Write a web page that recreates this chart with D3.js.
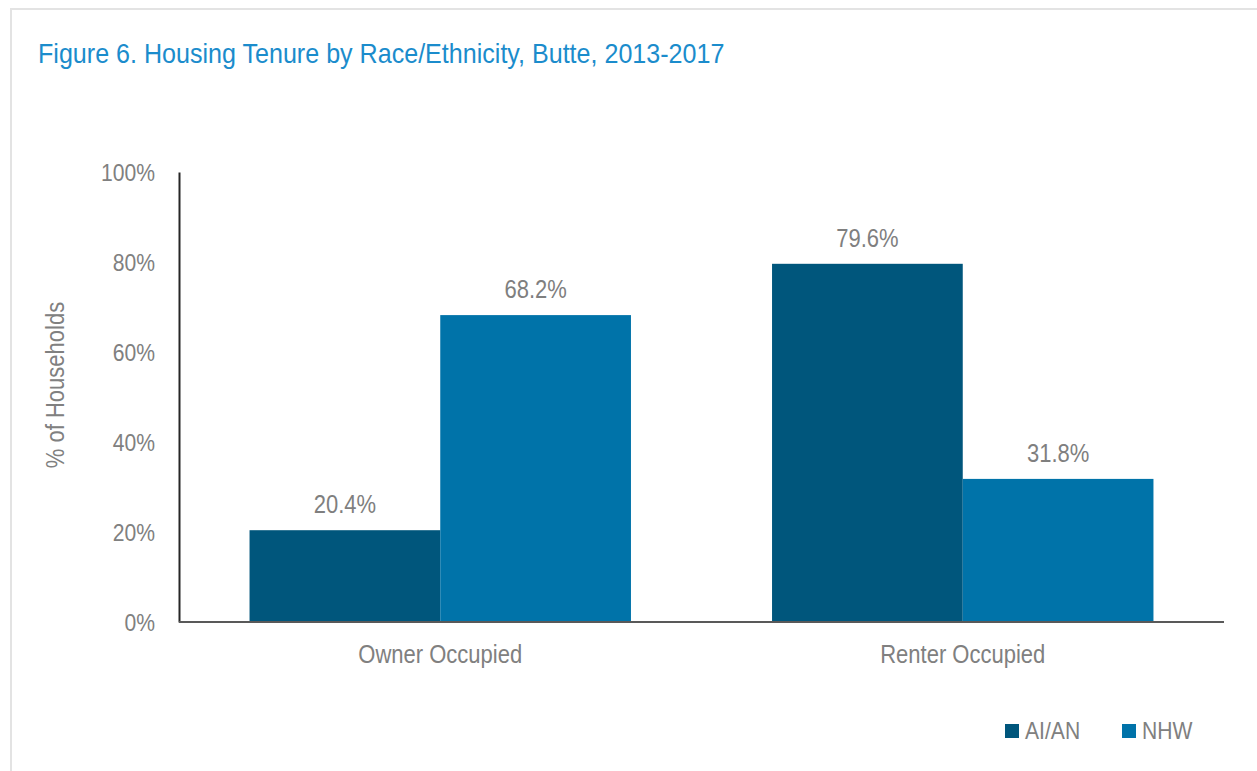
<!DOCTYPE html>
<html><head><meta charset="utf-8">
<script src="https://cdn.jsdelivr.net/npm/d3@7"></script>
<style>
body{margin:0;background:#fff;}
svg{display:block;}
text{font-family:"Liberation Sans",Arial,sans-serif;}
</style></head>
<body>
<svg id="c" width="1257" height="771"></svg>
<script>
const categories = ["Owner Occupied", "Renter Occupied"];
const seriesNames = ["AI/AN", "NHW"];
const aian = [20.4, 79.6];
const nhw = [68.2, 31.8];
const yTicks = [0, 20, 40, 60, 80, 100];
const colors = ["#00567c", "#0073a9"];
const title = "Figure 6. Housing Tenure by Race/Ethnicity, Butte, 2013-2017";

const svg = d3.select("#c");
const FS = 24;
// frame
svg.append("path").attr("d","M11,771 V9 H1257").attr("fill","none").attr("stroke","#e3e3e3").attr("stroke-width",2);

svg.append("text").attr("x",38).attr("y",63).attr("fill","#1b8ccc").attr("font-size",28.5).text(title);

const pLeft=179, pRight=1224, pTop=172, pBottom=622;
const x = d3.scaleBand().domain(categories).range([pLeft,pRight]).paddingInner(0.27).paddingOuter(0.135);
const xs = d3.scaleBand().domain(seriesNames).range([0,x.bandwidth()]);
const y = d3.scaleLinear().domain([0,100]).range([pBottom,pTop]);

const data = categories.map((c,i)=>({cat:c, vals:[aian[i], nhw[i]]}));
const g = svg.append("g");
data.forEach(d=>{
  d.vals.forEach((v,j)=>{
    g.append("rect").attr("x",x(d.cat)+xs(seriesNames[j])).attr("y",y(v))
      .attr("width",xs.bandwidth()).attr("height",y(0)-y(v)).attr("fill",colors[j]);
    g.append("text").attr("x",x(d.cat)+xs(seriesNames[j])+xs.bandwidth()/2).attr("y",y(v)-17)
      .attr("text-anchor","middle").attr("fill","#7f7f7f").attr("font-size",FS+1).text(v.toFixed(1)+"%");
  });
});

// y axis
const ya = svg.append("g").attr("transform",`translate(${pLeft},0)`)
  .call(d3.axisLeft(y).tickValues(yTicks).tickSize(0).tickPadding(24).tickFormat(d=>d+"%"));
ya.select(".domain").attr("stroke","#262626").attr("stroke-width",2);
ya.selectAll("text").attr("fill","#808080").attr("font-size",FS).attr("font-family",null).attr("dy","0.35em");

// x axis
const xa = svg.append("g").attr("transform",`translate(0,${pBottom})`)
  .call(d3.axisBottom(x).tickSize(0).tickPadding(23));
xa.select(".domain").attr("d",`M${pLeft},0H${pRight}`).attr("stroke","#595959").attr("stroke-width",2);
xa.selectAll("text").attr("fill","#808080").attr("font-size",FS+1).attr("font-family",null);

// y label
svg.append("text").attr("transform","translate(64,385) rotate(-90)").attr("text-anchor","middle")
  .attr("fill","#808080").attr("font-size",FS+1).text("% of Households");

// legend
const lg = svg.append("g");
const legX=[1005,1122];
seriesNames.forEach((s,i)=>{
  lg.append("rect").attr("x",legX[i]).attr("y",724).attr("width",14).attr("height",14).attr("fill",colors[i]);
  lg.append("text").attr("x",legX[i]+20).attr("y",739).attr("fill","#808080").attr("font-size",FS).text(s);
});

// condense all text to emulate a narrow face
svg.selectAll("text").each(function(){
  const w = this.getComputedTextLength();
  d3.select(this).attr("textLength", w*0.88).attr("lengthAdjust","spacingAndGlyphs");
});
</script>
</body></html>
